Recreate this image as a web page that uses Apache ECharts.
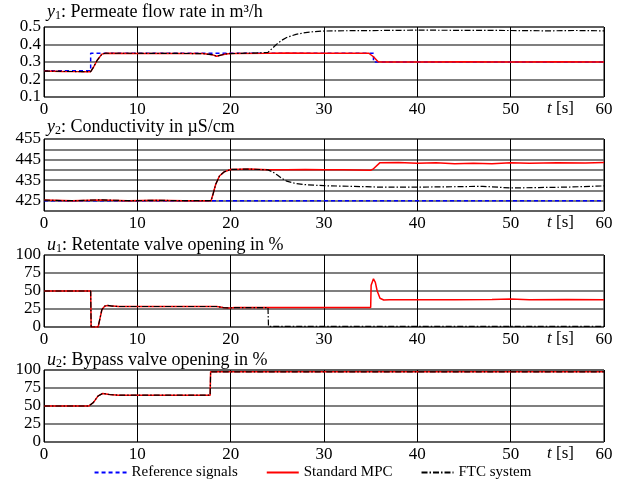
<!DOCTYPE html>
<html>
<head>
<meta charset="utf-8">
<script src="https://cdn.jsdelivr.net/npm/echarts@6/dist/echarts.min.js"></script>
<style>
  html, body { margin: 0; padding: 0; background: #fff; }
  #main { width: 625px; height: 486px; }
</style>
</head>
<body>
<div id="main"></div>
<script>
var FONT = '"Liberation Serif", "DejaVu Serif", serif';

// time axis ticks
var timeTicks = [0, 10, 20, 30, 40, 50, 60];

// y1: permeate flow rate
var y1Ref = [[0,0.25],[5,0.25],[5,0.35],[35.3,0.35],[35.3,0.30],[60,0.30]];
var y1Mpc = [[0,0.248],[2,0.246],[4,0.245],[5,0.245],[5.3,0.27],[5.7,0.31],[6.2,0.345],[6.6,0.35],[10,0.349],
  [14,0.348],[17,0.348],[18,0.342],[18.5,0.333],[19,0.34],[19.5,0.346],[20,0.348],[24,0.35],[26,0.352],[30,0.35],
  [34.8,0.35],[35.3,0.33],[35.8,0.302],[36.2,0.30],[40,0.30],[45,0.302],[50,0.30],[55,0.301],[60,0.30]];
var y1Ftc = [[0,0.248],[4,0.245],[5,0.245],[5.3,0.27],[5.7,0.31],[6.2,0.345],[6.6,0.35],[10,0.35],[14,0.349],
  [17,0.348],[18,0.342],[18.5,0.333],[19,0.34],[19.5,0.346],[20,0.348],[23,0.352],[24,0.355],[24.5,0.38],
  [25,0.405],[25.5,0.425],[26,0.44],[27,0.458],[28,0.468],[29,0.474],[30,0.477],[33,0.479],[36,0.48],
  [40,0.482],[45,0.481],[50,0.48],[54,0.478],[57,0.48],[60,0.478]];

// y2: conductivity
var y2Ref = [[0,425],[60,425]];
var y2Mpc = [[0,425.3],[3,425],[6,425.4],[9,425],[12,425.2],[15,425],[17.9,425],[18.1,428],[18.4,433],[18.8,437],
  [19.3,439],[20,440.2],[22,440.4],[24,440.1],[26,440],[28,440.2],[30,440],[32,440.1],[35,439.8],[35.3,440.5],
  [36,443.5],[38,443.6],[40,443.2],[42,443.4],[44,443],[46,443.2],[48,443],[50,443.4],[52,443.2],[55,443.5],
  [58,443.3],[60,443.6]];
var y2Ftc = [[0,425.3],[3,425],[6,425.4],[9,425],[12,425.2],[15,425],[17.9,425],[18.1,428],[18.4,433],[18.8,437],
  [19.3,439],[20,440.2],[22,440.4],[24,440],[24.5,439],[25,437.5],[25.5,435.8],[26,434.5],[27,433.3],[28,432.8],
  [30,432.3],[33,432],[36,431.6],[40,431.6],[44,431.8],[47,432],[50,431.2],[53,431.4],[56,431.6],[60,432.2]];

// u1: retentate valve opening
var u1Mpc = [[0,50],[5,50],[5.05,0],[5.8,0],[6,12],[6.2,24],[6.5,29],[6.8,30],[7.3,29],[8,28.5],[12,28.5],
  [16,28.5],[18.5,28.5],[19.2,27],[19.8,26.5],[20.5,27],[24,27],[30,27],[35,27],[35.05,58],[35.3,67],[35.5,62],
  [35.7,50],[36,40],[36.4,37.5],[37,37.8],[40,37.8],[44,38],[48,38.2],[50,38.8],[52,38],[56,38.3],[60,38]];
var u1Ftc = [[0,50],[5,50],[5.05,0],[5.8,0],[6,12],[6.2,24],[6.5,29],[6.8,30],[7.3,29],[8,28.5],[12,28.5],
  [16,28.5],[18.5,28.5],[19.2,27],[19.8,26.5],[20.5,27],[24,27],[24.05,1],[60,1]];

// u2: bypass valve opening
var u2Mpc = [[0,50],[4.8,50],[5.3,55],[5.8,64],[6.3,67.5],[7,66],[8,65],[12,65],[17.8,65],[17.85,97.5],[60,97.5]];
var u2Ftc = [[0,50],[4.8,50],[5.3,55],[5.8,64],[6.3,67.5],[7,66],[8,65],[12,65],[17.8,65],[17.85,97.5],[60,97.5]];

var seriesNames = ['Reference signals', 'Standard MPC', 'FTC system'];

var myChart = echarts.init(document.getElementById('main'));

var grids = [
  { left: 44, right: 21, top: 27, height: 70 },
  { left: 44, right: 21, top: 139, height: 72 },
  { left: 44, right: 21, top: 255, height: 72 },
  { left: 44, right: 21, top: 370, height: 72 }
];
grids.forEach(function (g) {
  g.show = true;
  g.borderColor = '#000';
  g.borderWidth = 1;
  g.backgroundColor = 'transparent';
});

function xAxisFor(i) {
  return {
    type: 'value', gridIndex: i, min: 0, max: 60, interval: 10,
    axisLine: { show: false },
    axisTick: { show: false },
    axisLabel: { color: '#000', fontFamily: FONT, fontSize: 17, margin: 4 },
    splitLine: { show: true, lineStyle: { color: '#000', width: 1 } }
  };
}
function yAxisFor(i, min, max, interval, fmt) {
  return {
    type: 'value', gridIndex: i, min: min, max: max, interval: interval,
    axisLine: { show: false },
    axisTick: { show: false },
    axisLabel: { color: '#000', fontFamily: FONT, fontSize: 17, margin: 3, formatter: fmt },
    splitLine: { show: true, lineStyle: { color: '#555', width: 1.5 } }
  };
}

function refLine(data, i) {
  return { name: seriesNames[0], type: 'line', xAxisIndex: i, yAxisIndex: i, data: data,
    symbol: 'none', lineStyle: { color: '#0000ff', width: 1.5, type: [4, 3] }, itemStyle: { color: '#0000ff' } };
}
function mpcLine(data, i) {
  return { name: seriesNames[1], type: 'line', xAxisIndex: i, yAxisIndex: i, data: data,
    symbol: 'none', lineStyle: { color: '#ff0000', width: 1.5 }, itemStyle: { color: '#ff0000' } };
}
function ftcLine(data, i) {
  return { name: seriesNames[2], type: 'line', xAxisIndex: i, yAxisIndex: i, data: data,
    symbol: 'none', lineStyle: { color: '#000', width: 1.2, type: [6, 2, 1.5, 2] }, itemStyle: { color: '#000' } };
}

var richBase = {
  i: { fontFamily: FONT, fontSize: 18, fontStyle: 'italic', fontWeight: 'normal', color: '#000', lineHeight: 20 },
  s: { fontFamily: FONT, fontSize: 12, fontWeight: 'normal', color: '#000', verticalAlign: 'bottom', lineHeight: 12 },
  n: { fontFamily: FONT, fontSize: 18, fontWeight: 'normal', color: '#000', lineHeight: 20 }
};
var richTick = {
  i: { fontFamily: FONT, fontSize: 17, fontStyle: 'italic', fontWeight: 'normal', color: '#000' },
  n: { fontFamily: FONT, fontSize: 17, fontWeight: 'normal', color: '#000' }
};
function panelTitle(text, top) {
  return { text: text, left: 47, top: top, padding: 0,
    textStyle: { fontWeight: 'normal', fontFamily: FONT, rich: richBase } };
}
function tLabel(top) {
  return { text: '{i|t}{n| [s]}', left: 547, top: top, padding: 0,
    textStyle: { fontWeight: 'normal', fontFamily: FONT, rich: richTick } };
}

option = {
  animation: false,
  title: [
    panelTitle('{i|y}{s|1}{n|: Permeate flow rate in m³/h}', 2),
    panelTitle('{i|y}{s|2}{n|: Conductivity in µS/cm}', 117),
    panelTitle('{i|u}{s|1}{n|: Retentate valve opening in %}', 235),
    panelTitle('{i|u}{s|2}{n|: Bypass valve opening in %}', 350),
    tLabel(100), tLabel(214), tLabel(330), tLabel(445)
  ],
  legend: {
    bottom: 1,
    left: 'center',
    itemWidth: 32,
    itemHeight: 10,
    itemGap: 28,
    data: seriesNames,
    itemStyle: { opacity: 0, borderWidth: 0 },
    textStyle: { fontFamily: FONT, fontSize: 15, color: '#000' }
  },
  grid: grids,
  xAxis: [xAxisFor(0), xAxisFor(1), xAxisFor(2), xAxisFor(3)],
  yAxis: [
    yAxisFor(0, 0.1, 0.5, 0.1, function (v) { return v.toFixed(1); }),
    yAxisFor(1, 420, 455, 5, function (v) { return [425, 435, 445, 455].indexOf(Math.round(v)) >= 0 ? String(Math.round(v)) : ''; }),
    yAxisFor(2, 0, 100, 25),
    yAxisFor(3, 0, 100, 25)
  ],
  series: [
    refLine(y1Ref, 0), mpcLine(y1Mpc, 0), ftcLine(y1Ftc, 0),
    refLine(y2Ref, 1), mpcLine(y2Mpc, 1), ftcLine(y2Ftc, 1),
    mpcLine(u1Mpc, 2), ftcLine(u1Ftc, 2),
    mpcLine(u2Mpc, 3), ftcLine(u2Ftc, 3)
  ]
};
myChart.setOption(option);
</script>
</body>
</html>
